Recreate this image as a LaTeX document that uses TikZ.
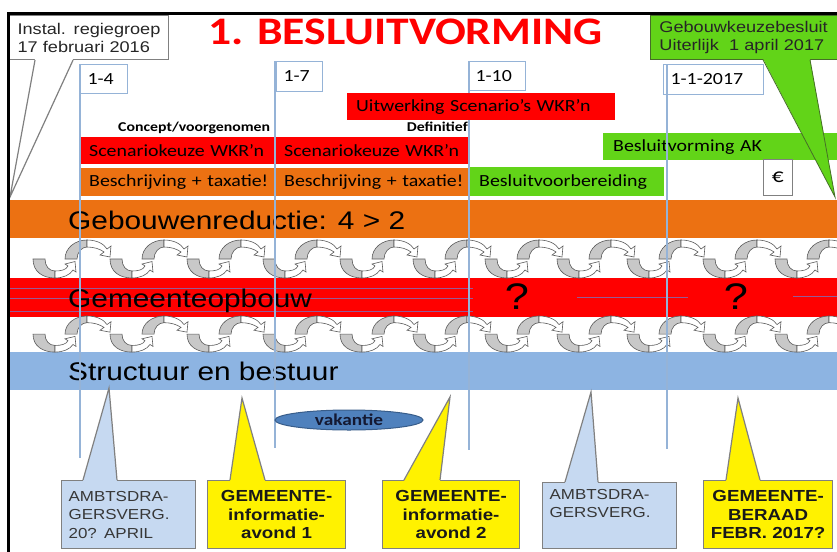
\documentclass[tikz,border=0pt]{standalone}
\usepackage{fontspec}
\setmainfont{Liberation Sans}[FakeStretch=1.17]
\newfontfamily\calib{Carlito}[FakeStretch=1.17]
\newcommand\myfs[2]{\fontsize{#1}{#2}\selectfont}
\usetikzlibrary{shapes.geometric}
\definecolor{orng}{RGB}{236,113,18}
\definecolor{grn}{RGB}{98,212,24}
\definecolor{bandblue}{RGB}{141,180,226}
\definecolor{lblue}{RGB}{198,217,241}
\definecolor{vline}{RGB}{149,179,215}
\definecolor{vak}{RGB}{79,129,189}
\definecolor{vakdark}{RGB}{56,93,138}
\definecolor{vaktext}{RGB}{20,25,50}
\definecolor{arrowgray}{RGB}{200,200,200}
\definecolor{arrowline}{RGB}{90,90,90}
\definecolor{redline}{RGB}{150,90,150}
\definecolor{cgray}{RGB}{128,128,128}
\definecolor{txtgray}{RGB}{55,55,55}
\definecolor{grnline}{RGB}{70,110,40}
\begin{document}
\begin{tikzpicture}[x=1pt,y=-1pt,
 bandtext/.style={anchor=base west, inner sep=0pt, font=\myfs{25.5}{28}},
 task/.style={anchor=north west, inner xsep=9pt, inner ysep=0pt, align=left, font=\calib\myfs{17}{20}},
 datebox/.style={anchor=north west, draw=vline, line width=1pt, fill=white, inner xsep=7pt, inner ysep=0pt, align=left, font=\calib\myfs{17}{20}},
 vl/.style={draw=vline, line width=1.2pt},
 cbox/.style={anchor=north west, draw=cgray, line width=1.2pt, inner xsep=7pt, inner ysep=0pt, minimum height=68pt},
 bluebox/.style={cbox, fill=lblue, align=left, font=\myfs{14.5}{18.5}, text=txtgray},
 yelbox/.style={cbox, fill=yellow, align=center, font=\bfseries\myfs{16}{18.5}, text=black!90},
 ptr/.style={draw=cgray, line width=1.2pt},
 wave/.pic={
  \filldraw[fill=arrowgray, draw=arrowline, line width=0.6pt] (0,19) .. controls (0,32) and (10,38) .. (22,38) -- (22,31) .. controls (16,31) and (12,26) .. (12,19) -- cycle;
  \filldraw[fill=white, draw=arrowline, line width=0.6pt] (22,38) .. controls (30,38) and (37,35) .. (40,30) -- (43,32) -- (42,21.5) -- (32,24) -- (35,26) .. controls (33,30) and (28,31) .. (22,31) -- cycle;
  \filldraw[fill=arrowgray, draw=arrowline, line width=0.6pt] (32,19) .. controls (32,8) and (42,0) .. (54,0) -- (54,7) .. controls (49,7) and (44,12) .. (44,19) -- cycle;
  \filldraw[fill=white, draw=arrowline, line width=0.6pt] (54,0) .. controls (64,0) and (71,4) .. (74,9) -- (78,6) -- (77,17) -- (67,15) -- (71,12) .. controls (67,9) and (61,7) .. (54,7) -- cycle;
 }
]
\useasboundingbox[fill=white] (0,0) rectangle (837,551);

% bands
\fill[orng] (8,200) rectangle (837,238);
\fill[red] (8,278) rectangle (837,317);
\fill[bandblue] (8,352) rectangle (837,390);
\draw[redline, line width=0.8pt] (8,288) -- (473,288);
\draw[redline, line width=0.8pt] (8,298) -- (473,298);
\draw[redline, line width=0.8pt] (8,311) -- (473,311);
\draw[redline, line width=0.8pt] (577,297) -- (688,297);
\draw[redline, line width=0.8pt] (793,296) -- (837,296);
\node[bandtext] (b1) at (68,229) {Gebouwenreductie: 4 > 2};
\node[bandtext] (b2) at (68,307) {Gemeenteopbouw};
\node[bandtext] (b3) at (68,380) {Structuur en bestuur};
\node[font=\myfs{37}{37}] (q1) at (517,297) {?};
\node[font=\myfs{37}{37}] (q2) at (736,297) {?};

% wave arrows
\foreach \x in {33,110,187,263,340,413,485,557,627,703,775}{
  \pic at (\x,240) {wave};
  \pic[yscale=0.95] at (\x,316) {wave};
}

% task boxes
\node[task, fill=red, text width=177pt, minimum height=27pt] (sk1) at (80,137) {\mbox{Scenariokeuze WKR’n}};
\node[task, fill=red, text width=175pt, minimum height=27pt] (sk2) at (275,137) {\mbox{Scenariokeuze WKR’n}};
\node[task, fill=orng, text width=177pt, minimum height=28pt] (bt1) at (80,168) {\mbox{Beschrijving + taxatie!}};
\node[task, fill=orng, text width=175pt, minimum height=28pt] (bt2) at (275,168) {\mbox{Beschrijving + taxatie!}};
\node[task, fill=grn, inner xsep=10pt, text width=175pt, minimum height=29pt] (bv) at (469,167) {\mbox{Besluitvoorbereiding}};
\node[task, fill=grn, inner xsep=10pt, text width=230pt, minimum height=27pt] (ak) at (603,133) {\mbox{Besluitvorming AK}};
\node[anchor=base west, inner sep=0pt, font=\calib\bfseries\myfs{13.5}{15}] (conc) at (118,131) {Concept/voorgenomen};
\node[anchor=base east, inner sep=0pt, font=\calib\bfseries\myfs{13.5}{15}] (def) at (468,131) {Definitief};

% date boxes
\node[datebox, text width=33pt, minimum height=29pt] (d1) at (80,64) {1-4};
\node[datebox, text width=32pt, minimum height=30pt] (d2) at (276,61) {1-7};
\node[datebox, text width=43pt, minimum height=29pt] (d3) at (468,61) {1-10};
\node[datebox, text width=86pt, minimum height=30pt] (d4) at (663,64) {1-1-2017};

% vertical time lines
\coordinate (e1) at (80,458);
\coordinate (e2) at (275,448);
\coordinate (e3) at (469,450);
\coordinate (e4) at (667,449);
\draw[vl] (d1.north west) -- (e1);
\draw[vl] ([xshift=-1pt]d2.north west) -- (e2);
\draw[vl] ([xshift=1pt]d3.north west) -- (e3);
\draw[vl] ([xshift=4pt]d4.north west) -- (e4);

\node[task, fill=red, text width=250pt, minimum height=27pt] (uitw) at (347,93) {\mbox{Uitwerking Scenario’s WKR’n}};
\node[anchor=north west, draw=cgray, line width=0.8pt, fill=white, minimum width=29pt, minimum height=36pt, inner sep=0pt, font=\calib\myfs{20}{20}] (eur) at (763,159) {€};

% vakantie
\node[ellipse, draw=vakdark, fill=vak, line width=1pt, minimum width=148pt, minimum height=20pt, inner sep=0pt, font=\calib\bfseries\myfs{16.5}{18}, text=vaktext] (vak) at (349,420) {vakantie};

% top callouts
\node[anchor=north west, draw=cgray, fill=white, line width=1.2pt, minimum height=44pt, text width=143pt, inner xsep=8pt, inner ysep=0pt, align=left, font=\myfs{15.5}{18}, text=black!85] (tl) at (9,15) {Instal. regiegroep\\17 februari 2016};
\coordinate (tltip) at (10,197);
\fill[white] ([xshift=26pt,yshift=1pt]tl.south west) -- (tltip) -- ([xshift=64pt,yshift=1pt]tl.south west) -- cycle;
\draw[ptr] ([xshift=26pt]tl.south west) -- (tltip) -- ([xshift=64pt]tl.south west);

\node[anchor=north west, draw=grnline, fill=grn, line width=0.8pt, minimum height=44pt, text width=182pt, inner xsep=9pt, inner ysep=0pt, align=left, font=\myfs{15.5}{18}, text=black!85] (tr) at (650,15) {Gebouwkeuzebesluit\\Uiterlijk~ 1 april 2017};
\coordinate (trtip) at (835,197);
\fill[grn] ([xshift=113pt,yshift=1pt]tr.south west) -- (trtip) -- ([xshift=160pt,yshift=1pt]tr.south west) -- cycle;
\draw[draw=grnline, line width=0.8pt] ([xshift=113pt]tr.south west) -- (trtip) -- ([xshift=160pt]tr.south west);

% bottom callouts
\node[bluebox, minimum width=134pt, text width=120pt] (cb1) at (61,480) {AMBTSDRA-\\GERSVERG.\\20? APRIL};
\node[yelbox, minimum width=138pt, text width=124pt] (cy1) at (207,480) {GEMEENTE-\\informatie-\\avond 1};
\node[yelbox, minimum width=137pt, text width=123pt] (cy2) at (382,480) {GEMEENTE-\\informatie-\\avond 2};
\node[bluebox, minimum width=134pt, text width=120pt, minimum height=66pt] (cb2) at (542,482) {AMBTSDRA-\\GERSVERG.\\\strut};
\node[yelbox, minimum width=129pt, text width=115pt] (cy3) at (703,480) {GEMEENTE-\\BERAAD\\FEBR. 2017?};

\coordinate (t1) at (109,388);
\coordinate (t2) at (242,398);
\coordinate (t3) at (450,397);
\coordinate (t4) at (591,392);
\coordinate (t5) at (738,398);
\fill[lblue] ([xshift=22pt,yshift=-1pt]cb1.north west) -- (t1) -- ([xshift=56pt,yshift=-1pt]cb1.north west) -- cycle;
\draw[ptr] ([xshift=22pt]cb1.north west) -- (t1) -- ([xshift=56pt]cb1.north west);
\fill[yellow] ([xshift=23pt,yshift=-1pt]cy1.north west) -- (t2) -- ([xshift=58pt,yshift=-1pt]cy1.north west) -- cycle;
\draw[ptr] ([xshift=23pt]cy1.north west) -- (t2) -- ([xshift=58pt]cy1.north west);
\fill[yellow] ([xshift=22pt,yshift=-1pt]cy2.north west) -- (t3) -- ([xshift=58pt,yshift=-1pt]cy2.north west) -- cycle;
\draw[ptr] ([xshift=22pt]cy2.north west) -- (t3) -- ([xshift=58pt]cy2.north west);
\fill[lblue] ([xshift=23pt,yshift=-1pt]cb2.north west) -- (t4) -- ([xshift=56pt,yshift=-1pt]cb2.north west) -- cycle;
\draw[ptr] ([xshift=23pt]cb2.north west) -- (t4) -- ([xshift=56pt]cb2.north west);
\fill[yellow] ([xshift=23pt,yshift=-1pt]cy3.north west) -- (t5) -- ([xshift=57pt,yshift=-1pt]cy3.north west) -- cycle;
\draw[ptr] ([xshift=23pt]cy3.north west) -- (t5) -- ([xshift=57pt]cy3.north west);

% title and frame
\node[anchor=base west, inner sep=0pt, text=red, font=\calib\bfseries\myfs{39}{40}] (title) at (208,45) {1. BESLUITVORMING};
\draw[black, line width=3pt] (8,560) -- (8,14) -- (845,14);
\end{tikzpicture}
\end{document}
